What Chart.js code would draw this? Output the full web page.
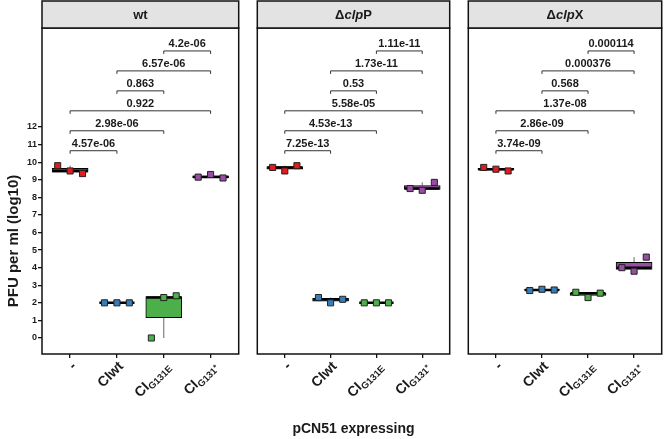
<!DOCTYPE html>
<html lang="en">
<head>
<meta charset="UTF-8">
<title>PFU per ml (log10)</title>
<script src="https://cdn.jsdelivr.net/npm/chart.js"></script>
<style>
  body { margin: 0; background: #fff; }
  .panel { position: absolute; top: 0; height: 439px; }
</style>
</head>
<body>
<div class="panel" style="left:0;width:244px"><canvas id="c0"></canvas></div>
<div class="panel" style="left:252px;width:203px"><canvas id="c1"></canvas></div>
<div class="panel" style="left:463px;width:204px"><canvas id="c2"></canvas></div>

<script>
// facets
const strains = ['wt', 'ΔclpP', 'ΔclpX'];
// x categories
const constructs = ['-', 'CIwt', 'CIG131E', 'CIG131*'];
// log10 PFU per ml, three replicates per construct
const wtPfu   = [[9.8, 9.5, 9.35], [2.0, 2.0, 2.0], [0.0, 2.3, 2.4], [9.15, 9.3, 9.1]];
const clpPPfu = [[9.7, 9.5, 9.8], [2.3, 2.0, 2.2], [2.0, 2.0, 2.0], [8.5, 8.4, 8.85]];
const clpXPfu = [[9.7, 9.6, 9.5], [2.7, 2.77, 2.73], [2.6, 2.3, 2.55], [4.0, 3.8, 4.6]];
// pairwise comparisons and their p values
const comparisons = [[0, 1], [0, 2], [0, 3], [1, 2], [1, 3], [2, 3]];
const wtPvals   = ['4.57e-06', '2.98e-06', '0.922', '0.863', '6.57e-06', '4.2e-06'];
const clpPPvals = ['7.25e-13', '4.53e-13', '5.58e-05', '0.53', '1.73e-11', '1.11e-11'];
const clpXPvals = ['3.74e-09', '2.86e-09', '1.37e-08', '0.568', '0.000376', '0.000114'];
const yTicks = [0, 1, 2, 3, 4, 5, 6, 7, 8, 9, 10, 11, 12];

const pfu = [wtPfu, clpPPfu, clpXPfu];
const pvals = [wtPvals, clpPPvals, clpXPvals];
const colours = ['#e41a1c', '#377eb8', '#4daf4a', '#984ea3'];
const jitter = [-0.265, 0, 0.265];
const FONT = '"Liberation Sans", Arial, sans-serif';

function quantile(sorted, p) {
    const h = (sorted.length - 1) * p;
    const lo = Math.floor(h);
    const hi = Math.min(lo + 1, sorted.length - 1);
    return sorted[lo] + (h - lo) * (sorted[hi] - sorted[lo]);
}

function boxStats(vals) {
    const s = vals.slice().sort((a, b) => a - b);
    const q1 = quantile(s, 0.25), med = quantile(s, 0.5), q3 = quantile(s, 0.75);
    const iqr = q3 - q1;
    const lo = Math.min(...s.filter(v => v >= q1 - 1.5 * iqr));
    const hi = Math.max(...s.filter(v => v <= q3 + 1.5 * iqr));
    return { q1, med, q3, lo, hi };
}

function drawStrip(ctx, area, name) {
    ctx.save();
    ctx.fillStyle = '#e3e3e3';
    ctx.strokeStyle = '#111';
    ctx.lineWidth = 1.5;
    ctx.fillRect(area.left, 1, area.right - area.left, area.top - 1);
    ctx.strokeRect(area.left, 1, area.right - area.left, area.top - 1);
    ctx.fillStyle = '#1a1a1a';
    ctx.textBaseline = 'middle';
    const cx = (area.left + area.right) / 2, cy = 15;
    if (name.startsWith('Δ')) {
        // delta + italic gene name + protein letter
        const parts = [['Δ', 'bold 13px ' + FONT], [name.slice(1, 4), 'italic bold 13px ' + FONT], [name.slice(4), 'bold 13px ' + FONT]];
        let w = 0;
        parts.forEach(p => { ctx.font = p[1]; w += ctx.measureText(p[0]).width; });
        let x = cx - w / 2;
        ctx.textAlign = 'left';
        parts.forEach(p => { ctx.font = p[1]; ctx.fillText(p[0], x, cy); x += ctx.measureText(p[0]).width; });
    } else {
        ctx.font = 'bold 13px ' + FONT;
        ctx.textAlign = 'center';
        ctx.fillText(name, cx, cy);
    }
    ctx.restore();
}

function drawXLabel(ctx, label, x, y) {
    ctx.save();
    ctx.translate(x, y);
    ctx.rotate(-Math.PI / 4);
    ctx.fillStyle = '#1a1a1a';
    ctx.textBaseline = 'alphabetic';
    ctx.textAlign = 'left';
    const big = 'bold 14px ' + FONT, small = 'bold 9.5px ' + FONT;
    let pieces;
    if (label.startsWith('CIG')) {
        const sub = label.slice(2).replace('*', '');
        pieces = [[label.slice(0, 2), big, 0], [sub, small, 3]];
        if (label.endsWith('*')) pieces.push(['*', 'bold 8px ' + FONT, 1]);
    } else {
        pieces = [[label, big, 0]];
    }
    let w = 0;
    pieces.forEach(p => { ctx.font = p[1]; w += ctx.measureText(p[0]).width; });
    let px = -w;
    pieces.forEach(p => {
        ctx.font = p[1];
        ctx.fillText(p[0], px, 10 + p[2]);
        px += ctx.measureText(p[0]).width;
    });
    ctx.restore();
}

function makePanel(i) {
    const data = pfu[i];
    const stats = data.map(boxStats);

    const facetPlugin = {
        id: 'facet' + i,
        beforeDatasetDraw(chart, args) {
            if (args.index !== 0) return;
            // whiskers behind the boxes
            const { ctx, scales: { x, y } } = chart;
            ctx.save();
            ctx.strokeStyle = '#666';
            ctx.lineWidth = 1;
            stats.forEach((s, k) => {
                const px = x.getPixelForValue(k + 1);
                ctx.beginPath();
                ctx.moveTo(px, y.getPixelForValue(s.lo));
                ctx.lineTo(px, y.getPixelForValue(s.q1));
                ctx.moveTo(px, y.getPixelForValue(s.q3));
                ctx.lineTo(px, y.getPixelForValue(s.hi));
                ctx.stroke();
            });
            ctx.restore();
        },
        afterDatasetDraw(chart, args) {
            if (args.index !== 0) return;
            // medians
            const { ctx, scales: { x, y } } = chart;
            ctx.save();
            ctx.strokeStyle = '#000';
            ctx.lineWidth = 2.5;
            stats.forEach((s, k) => {
                const l = x.getPixelForValue(k + 1 - 0.375), r = x.getPixelForValue(k + 1 + 0.375);
                const py = y.getPixelForValue(s.med);
                ctx.beginPath();
                ctx.moveTo(l, py);
                ctx.lineTo(r, py);
                ctx.stroke();
            });
            ctx.restore();
        },
        afterDraw(chart) {
            const { ctx, chartArea: area, scales: { x, y } } = chart;
            // panel border
            ctx.save();
            ctx.strokeStyle = '#111';
            ctx.lineWidth = 1.5;
            ctx.strokeRect(area.left, area.top, area.right - area.left, area.bottom - area.top);
            ctx.restore();
            drawStrip(ctx, area, strains[i]);

            // significance brackets
            ctx.save();
            ctx.strokeStyle = '#333';
            ctx.lineWidth = 1;
            ctx.fillStyle = '#1a1a1a';
            ctx.font = 'bold 11px ' + FONT;
            ctx.textAlign = 'center';
            ctx.textBaseline = 'alphabetic';
            comparisons.forEach((c, k) => {
                const level = y.getPixelForValue(10.65 + k * 1.135);
                const a = x.getPixelForValue(c[0] + 1), b = x.getPixelForValue(c[1] + 1);
                ctx.beginPath();
                ctx.moveTo(a, level + 3);
                ctx.lineTo(a, level);
                ctx.lineTo(b, level);
                ctx.lineTo(b, level + 3);
                ctx.stroke();
                ctx.fillText(pvals[i][k], (a + b) / 2, level - 4);
            });
            ctx.restore();

            // rotated category labels
            constructs.forEach((lab, k) => {
                drawXLabel(ctx, lab, x.getPixelForValue(k + 1), area.bottom + 6);
            });

            ctx.save();
            ctx.fillStyle = '#1a1a1a';
            if (i === 0) {
                ctx.font = 'bold 15px ' + FONT;
                ctx.translate(14, 241);
                ctx.rotate(-Math.PI / 2);
                ctx.textAlign = 'center';
                ctx.textBaseline = 'middle';
                ctx.fillText('PFU per ml (log10)', 0, 0);
            }
            if (i === 1) {
                ctx.font = 'bold 14px ' + FONT;
                ctx.textAlign = 'center';
                ctx.textBaseline = 'middle';
                ctx.fillText('pCN51 expressing', (area.left + area.right) / 2, 429);
            }
            ctx.restore();
        }
    };

    const boxes = stats.map((s, k) => ({ x: k + 1, y: [s.q1, s.q3] }));
    const points = [], pointColours = [];
    data.forEach((vals, k) => vals.forEach((v, j) => {
        points.push({ x: k + 1 + jitter[j], y: v });
        pointColours.push(colours[k]);
    }));

    return new Chart(document.getElementById('c' + i), {
        type: 'bar',
        data: {
            datasets: [{
                data: boxes,
                backgroundColor: colours,
                borderColor: '#000',
                borderWidth: 1,
                borderSkipped: false,
                barThickness: 36,
                order: 2
            }, {
                type: 'scatter',
                data: points,
                pointStyle: 'rect',
                pointRadius: 4.3,
                pointHoverRadius: 4.3,
                backgroundColor: pointColours,
                borderColor: '#222',
                borderWidth: 1,
                order: 1
            }]
        },
        options: {
            responsive: true,
            maintainAspectRatio: false,
            animation: false,
            layout: { padding: { left: i === 0 ? 0 : 1, right: 1, top: 28, bottom: 0 } },
            plugins: { legend: { display: false }, tooltip: { enabled: false } },
            scales: {
                x: {
                    type: 'linear',
                    min: 0.4,
                    max: 4.6,
                    offset: false,
                    afterBuildTicks: ax => { ax.ticks = constructs.map((c, k) => ({ value: k + 1 })); },
                    afterFit: ax => { ax.height = 85; },
                    ticks: { display: false },
                    border: { display: false },
                    grid: { offset: false, drawOnChartArea: false, drawTicks: true, tickLength: 4, color: '#111', lineWidth: 1.3 }
                },
                y: {
                    display: i === 0,
                    min: -0.91,
                    max: 17.63,
                    afterBuildTicks: ax => { ax.ticks = yTicks.map(v => ({ value: v })); },
                    afterFit: ax => { ax.width = i === 0 ? 42 : 0; },
                    ticks: { color: '#1a1a1a', font: { family: FONT, size: 9, weight: 'bold' }, padding: 1 },
                    border: { display: false },
                    grid: { drawOnChartArea: false, drawTicks: true, tickLength: 4, color: '#111', lineWidth: 1.3 }
                }
            }
        },
        plugins: [facetPlugin]
    });
}

[0, 1, 2].forEach(makePanel);
</script>
</body>
</html>
